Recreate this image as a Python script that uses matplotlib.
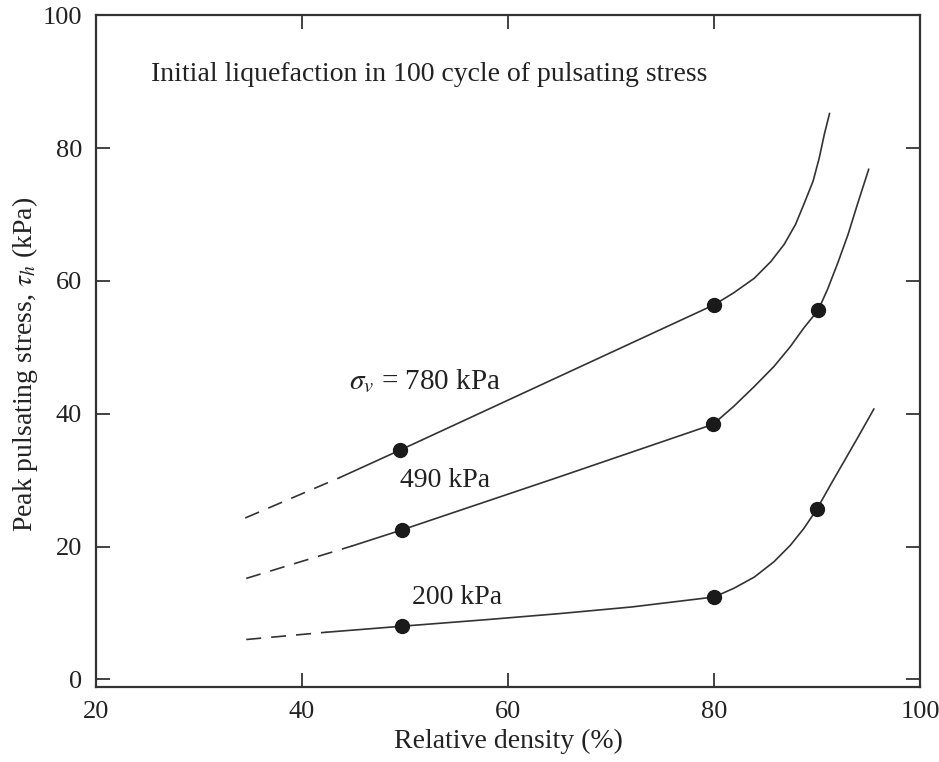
import matplotlib
matplotlib.use("Agg")
import matplotlib.pyplot as plt

plt.rcParams['font.family'] = ['Liberation Serif', 'DejaVu Serif']
plt.rcParams['mathtext.fontset'] = 'stix'

# measured points (relative density %, peak pulsating stress kPa)
dots_780_x = [49.5, 80.0]
dots_780_y = [34.5, 56.4]
dots_490_x = [49.7, 79.9, 90.1]
dots_490_y = [22.5, 38.4, 55.6]
dots_200_x = [49.7, 80.0, 90.0]
dots_200_y = [8.0, 12.4, 25.7]

# curves
dash_780_x = [34.5, 43.7]
dash_780_y = [24.3, 30.4]
line_780_x = [43.7, 49.5, 80.0, 81.9, 83.9, 85.5, 86.8, 87.9, 88.7, 89.6, 90.2, 90.7, 91.2]
line_780_y = [30.4, 34.5, 56.4, 58.2, 60.4, 62.9, 65.5, 68.5, 71.5, 75.0, 78.5, 82.1, 85.2]

dash_490_x = [34.6, 44.9]
dash_490_y = [15.2, 20.1]
line_490_x = [44.9, 49.7, 65.0, 79.9, 81.9, 83.9, 85.8, 87.4, 88.7, 90.1,
              91.0, 92.0, 93.0, 93.9, 95.0]
line_490_y = [20.1, 22.5, 30.5, 38.4, 41.1, 44.1, 47.1, 50.1, 52.9, 55.6,
              58.7, 62.7, 67.0, 71.5, 76.8]

dash_200_x = [34.6, 42.4]
dash_200_y = [6.0, 7.1]
line_200_x = [42.4, 49.7, 58.0, 65.0, 72.0, 80.0, 81.9, 83.9, 85.8, 87.4, 88.7,
              90.0, 91.3, 92.6, 93.9, 95.5]
line_200_y = [7.1, 8.0, 9.0, 9.9, 10.9, 12.4, 13.7, 15.4, 17.7, 20.2, 22.7,
              25.7, 29.3, 32.8, 36.3, 40.7]

x_ticks = [20, 40, 60, 80, 100]
y_ticks = [0, 20, 40, 60, 80, 100]

fig = plt.figure(figsize=(9.39, 7.62), dpi=100)
ax = fig.add_axes([0.102, 0.098, 0.878, 0.882])

lc = '#333333'
for dx, dy, lx, ly, px, py in [
        (dash_780_x, dash_780_y, line_780_x, line_780_y, dots_780_x, dots_780_y),
        (dash_490_x, dash_490_y, line_490_x, line_490_y, dots_490_x, dots_490_y),
        (dash_200_x, dash_200_y, line_200_x, line_200_y, dots_200_x, dots_200_y)]:
    ax.plot(dx, dy, color=lc, lw=1.2, dashes=(9, 6))
    ax.plot(lx, ly, color=lc, lw=1.2, solid_joinstyle='round')
    ax.plot(px, py, 'o', color='#1a1a1a', ms=10)

ax.set_xlim(20, 100)
ax.set_ylim(-1.2, 100)
ax.set_xticks(x_ticks)
ax.set_yticks(y_ticks)
ax.tick_params(direction='in', length=10, width=1.2, top=True, right=True,
               labelsize=19, colors='#222222', pad=10)
for s in ax.spines.values():
    s.set_linewidth(1.6)
    s.set_color('#333333')

ax.set_xlabel('Relative density (%)', fontsize=20, color='#222222', labelpad=4)
ax.set_ylabel(r'Peak pulsating stress, $\tau_h$ (kPa)', fontsize=20, color='#222222')
ax.yaxis.set_label_coords(-0.068, 0.48)

ax.text(25.4, 91.1, 'Initial liquefaction in 100 cycle of pulsating stress',
        fontsize=20, va='center', color='#222222')
ax.text(44.6, 44.8, r'$\sigma_v$ = 780 kPa', fontsize=21, va='center', color='#222222')
ax.text(49.5, 29.9, '490 kPa', fontsize=20, va='center', color='#222222')
ax.text(50.7, 12.3, '200 kPa', fontsize=20, va='center', color='#222222')

fig.savefig('out.png', dpi=100)
